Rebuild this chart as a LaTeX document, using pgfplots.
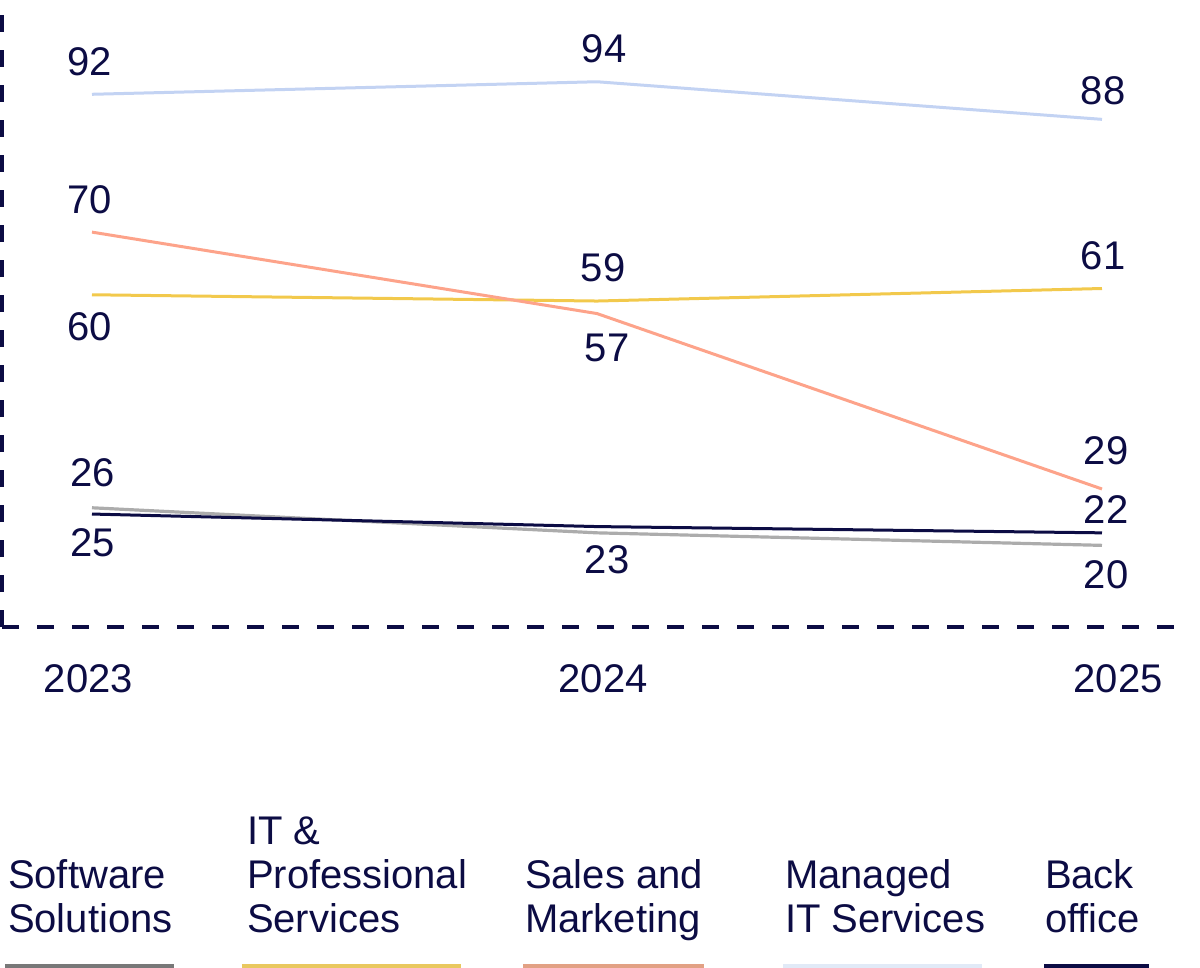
\documentclass[border=0pt]{standalone}
\usepackage{fontspec}
\setmainfont{Liberation Sans}
\usepackage{pgfplots}
\pgfplotsset{compat=1.18}
\definecolor{navy}{RGB}{12,12,68}
\definecolor{sgray}{RGB}{172,172,172}
\definecolor{sgrayL}{RGB}{120,120,120}
\definecolor{syel}{RGB}{242,201,76}
\definecolor{syelL}{RGB}{233,200,95}
\definecolor{sora}{RGB}{253,163,138}
\definecolor{soraL}{RGB}{226,161,132}
\definecolor{sblu}{RGB}{195,211,243}
\definecolor{sbluL}{RGB}{225,234,247}
\tikzset{lbl/.style={font=\fontsize{20bp}{22bp}\selectfont, text=navy, inner sep=0pt}}
\begin{document}
\begin{tikzpicture}
\useasboundingbox (-1bp,-170.5bp) rectangle (599bp,313.5bp);
\begin{axis}[
  at={(0,0)}, anchor=south west,
  scale only axis, width=591.5bp, height=313.5bp,
  xmin=2022.8218, xmax=2025.1644, ymin=6.97, ymax=107.05,
  axis lines*=left,
  axis line style={navy, line width=2bp, dash pattern=on 8.5bp off 9bp},
  ytick=\empty,
  xtick={2022.993,2024.012,2025.032},
  xticklabels={2023,2024,2025},
  major tick length=0pt,
  xticklabel style={anchor=base, yshift=-32.5bp, font=\fontsize{20bp}{22bp}\selectfont, text=navy, inner sep=0pt},
  clip=false,
  legend columns=5,
  legend style={at={(axis description cs:0,0)}, anchor=south west, xshift=3bp, yshift=-152.5bp,
    draw=none, fill=none, inner sep=0pt, outer sep=0pt, column sep=0pt,
    font=\fontsize{20bp}{22bp}\selectfont, text=navy,
    cells={anchor=base west}, nodes={inner sep=0pt, outer sep=0pt, text depth=0pt}},
]
\addplot[sgray, line width=1.6bp, legend image code/.code={\draw[overlay, sgrayL, line width=2bp] (-1.5bp,-17bp) -- (83bp,-17bp);}]
  coordinates {(2023,26) (2024,22) (2025,20)};
\addlegendentry{\parbox[b]{119.5bp}{Software\\Solutions}}
\addplot[syel, line width=1.5bp, legend image code/.code={\draw[overlay, syelL, line width=2bp] (-2.5bp,-17bp) -- (107bp,-17bp);}]
  coordinates {(2023,60) (2024,59) (2025,61)};
\addlegendentry{\parbox[b]{139bp}{IT \&\\Professional\\Services}}
\addplot[sora, line width=1.5bp, legend image code/.code={\draw[overlay, soraL, line width=2bp] (-1bp,-17bp) -- (89.5bp,-17bp);}]
  coordinates {(2023,70) (2024,57) (2025,29)};
\addlegendentry{\parbox[b]{130bp}{Sales and\\Marketing}}
\addplot[sblu, line width=1.5bp, legend image code/.code={\draw[overlay, sbluL, line width=2bp] (-1bp,-17bp) -- (98.5bp,-17bp);}]
  coordinates {(2023,92) (2024,94) (2025,88)};
\addlegendentry{\parbox[b]{130bp}{Managed\\IT Services}}
\addplot[navy, line width=1.5bp, legend image code/.code={\draw[overlay, navy, line width=2bp] (-0.5bp,-17bp) -- (52bp,-17bp);}]
  coordinates {(2023,25) (2024,23) (2025,22)};
\addlegendentry{\parbox[b]{60bp}{Back\\office}}
% value labels
\node[lbl] at (axis cs:2022.996,97.16) {92};
\node[lbl] at (axis cs:2024.014,99.23) {94};
\node[lbl] at (axis cs:2025.002,92.53) {88};
\node[lbl] at (axis cs:2022.996,75.13) {70};
\node[lbl] at (axis cs:2022.996,54.86) {60};
\node[lbl] at (axis cs:2024.012,64.28) {59};
\node[lbl] at (axis cs:2025.002,66.19) {61};
\node[lbl] at (axis cs:2024.020,51.51) {57};
\node[lbl] at (axis cs:2025.008,35.07) {29};
\node[lbl] at (axis cs:2025.008,25.65) {22};
\node[lbl] at (axis cs:2025.008,15.28) {20};
\node[lbl] at (axis cs:2023.002,31.56) {26};
\node[lbl] at (axis cs:2023.002,20.38) {25};
\node[lbl] at (axis cs:2024.020,17.67) {23};
\end{axis}
\end{tikzpicture}
\end{document}
